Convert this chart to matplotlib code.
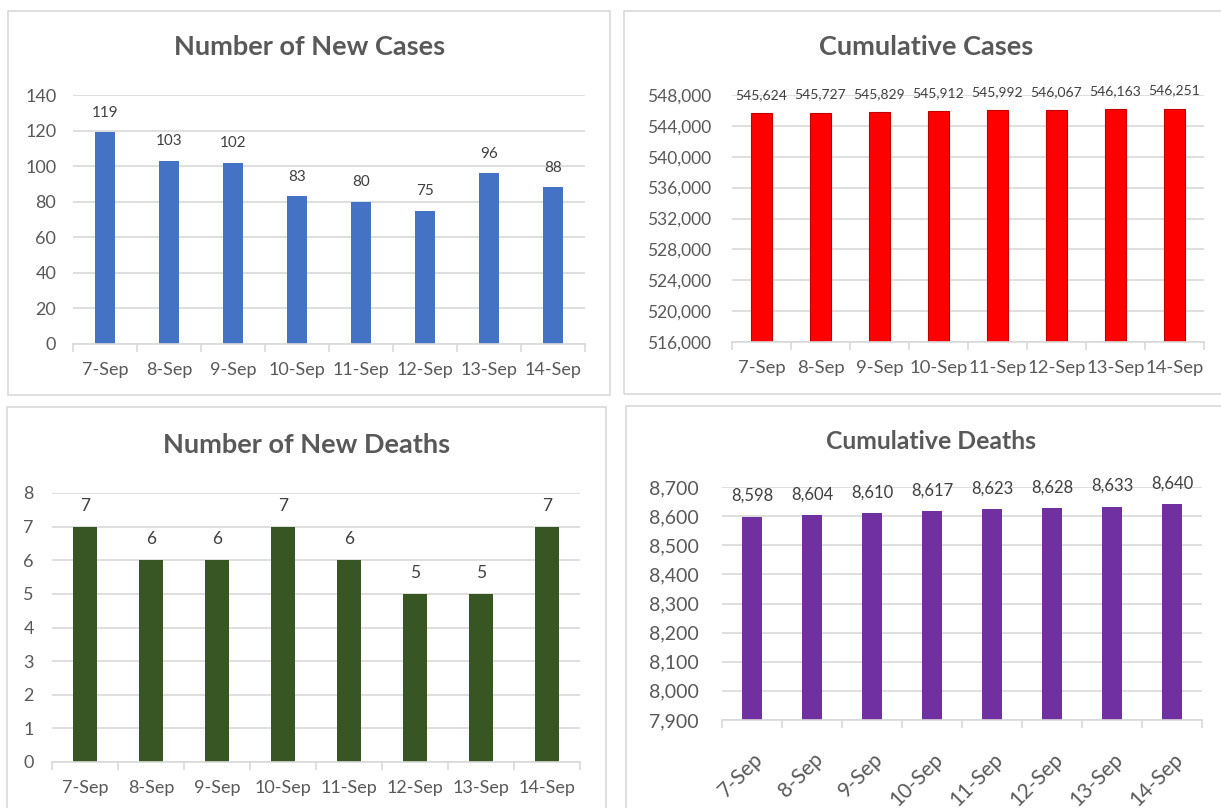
import matplotlib
matplotlib.use('Agg')
import matplotlib.pyplot as plt
from matplotlib.patches import Rectangle
from matplotlib.ticker import FuncFormatter, FixedLocator, MultipleLocator
from matplotlib.transforms import ScaledTranslation
import numpy as np

plt.rcParams['font.family'] = ['Lato', 'DejaVu Sans']

# data
dates = ['7-Sep', '8-Sep', '9-Sep', '10-Sep', '11-Sep', '12-Sep', '13-Sep', '14-Sep']
new_cases = [119, 103, 102, 83, 80, 75, 96, 88]
cum_cases = [545624, 545727, 545829, 545912, 545992, 546067, 546163, 546251]
new_deaths = [7, 6, 6, 7, 6, 5, 5, 7]
cum_deaths = [8598, 8604, 8610, 8617, 8623, 8628, 8633, 8640]

W, H = 1221, 808
fig = plt.figure(figsize=(W / 100, H / 100), dpi=100)
fig.patch.set_facecolor('white')

GRID = '#D9D9D9'
TXT = '#595959'
LBL = '#404040'


def place(l, t, r, b):
    return fig.add_axes([l / W, 1 - b / H, (r - l) / W, (b - t) / H])


def box(l, t, r, b):
    fig.patches.append(Rectangle((l / W, 1 - b / H), (r - l) / W, (b - t) / H,
                                 transform=fig.transFigure, fill=False,
                                 edgecolor=GRID, linewidth=1.2, zorder=0))


def panel(rect, values, color, ylim, step, title, title_xy, title_size,
          tick_size, lbl_size, ypad, thousands=False, rotate=False,
          width=0.32, edge=None, lbl_off=14, xpad=12):
    ax = place(*rect)
    x = np.arange(len(values))
    ax.bar(x, values, width=width, color=color,
           edgecolor=edge if edge else color, linewidth=0.8 if edge else 0,
           zorder=2)
    ax.set_xlim(-0.5, len(values) - 0.5)
    ax.set_ylim(*ylim)
    ax.yaxis.set_major_locator(MultipleLocator(step))
    if thousands:
        ax.yaxis.set_major_formatter(FuncFormatter(lambda v, p: f'{v:,.0f}'))
    ax.set_xticks(x)
    ax.xaxis.set_minor_locator(FixedLocator(np.arange(-0.5, len(values), 1.0)))
    ax.tick_params(axis='x', which='major', length=0, labelsize=tick_size,
                   labelcolor=TXT, pad=xpad)
    ax.tick_params(axis='x', which='minor', length=6, color=GRID, width=1.2)
    ax.tick_params(axis='y', length=0, labelsize=ypad[0], labelcolor=TXT, pad=ypad[1])
    if rotate:
        ax.set_xticklabels(dates, rotation=45, ha='right', va='center',
                           rotation_mode='anchor')
        shift = ScaledTranslation(8 / 100, 0, fig.dpi_scale_trans)
        for t in ax.get_xticklabels():
            t.set_transform(t.get_transform() + shift)
    else:
        ax.set_xticklabels(dates)
    for s in ['top', 'right', 'left']:
        ax.spines[s].set_visible(False)
    ax.spines['bottom'].set_color(GRID)
    ax.spines['bottom'].set_linewidth(1.2)
    ax.yaxis.grid(True, color=GRID, linewidth=1.2, zorder=0)
    ax.set_axisbelow(True)
    for xi, v in zip(x, values):
        ax.annotate(f'{v:,}' if thousands else str(v), (xi, v),
                    xytext=(0, lbl_off), textcoords='offset points',
                    ha='center', va='center', fontsize=lbl_size, color=LBL,
                    annotation_clip=False)
    fig.text(title_xy[0] / W, 1 - title_xy[1] / H, title, ha='center',
             va='center', fontsize=title_size, fontweight='bold', color=TXT)
    return ax


box(8, 11, 610, 395)
box(624, 11, 1240, 394)
box(7, 407, 606, 830)
box(626, 406, 1240, 830)

panel((73, 95, 585, 344), new_cases, '#4472C4', (0, 140), 20,
      'Number of New Cases', (310, 47), 19.5, 13, 11, (13, 12), width=0.31,
      xpad=13)
panel((732, 95, 1204, 342), cum_cases, '#FF0000', (516000, 548000), 4000,
      'Cumulative Cases', (926, 47), 19.5, 13.3, 10, (12.5, 15), thousands=True,
      width=0.34, edge='#C00000', lbl_off=13, xpad=13)
panel((52, 493, 580, 762), new_deaths, '#375623', (0, 8), 1,
      'Number of New Deaths', (307, 445), 19.5, 13, 12.5, (13, 13), width=0.35,
      lbl_off=15, xpad=13)
panel((722, 487, 1202, 720), cum_deaths, '#7030A0', (7900, 8700), 100,
      'Cumulative Deaths', (931, 441), 17.8, 15, 12, (14, 17), thousands=True,
      rotate=True, width=0.32, lbl_off=15, xpad=26)

fig.savefig('out.png', dpi=100)
